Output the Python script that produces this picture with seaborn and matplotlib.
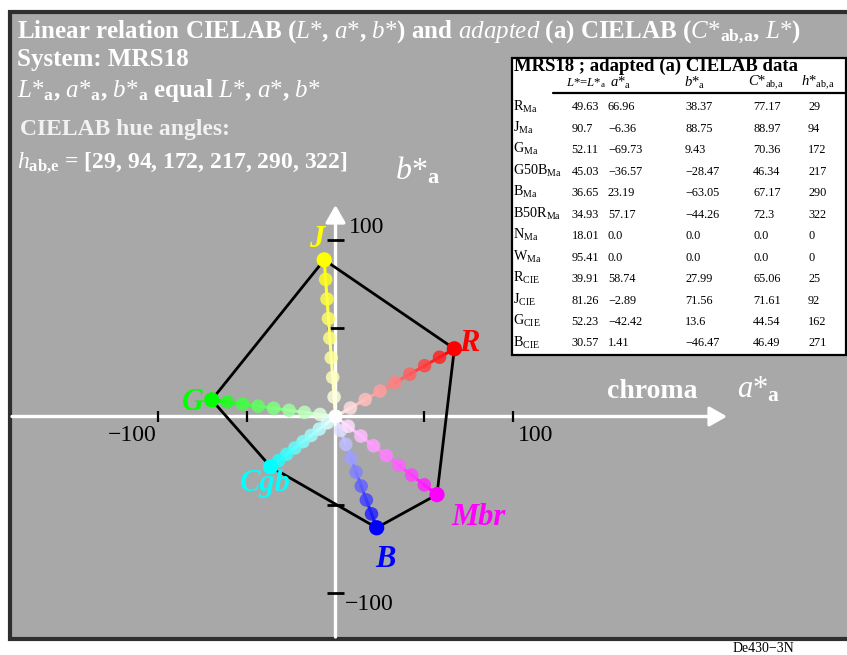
import matplotlib
matplotlib.use("Agg")
import matplotlib.pyplot as plt
import matplotlib.colors as mcolors
from matplotlib.patches import Rectangle
import numpy as np
import pandas as pd
import seaborn as sns

# ---- data -------------------------------------------------------------
hue_names = ["R", "J", "G", "Cgb", "B", "Mbr"]
a_values = [66.96, -6.36, -69.73, -36.57, 23.19, 57.17]
b_values = [38.37, 88.75, 9.43, -28.47, -63.05, -44.26]
hue_colors = ["#ff0000", "#ffff00", "#00ff00", "#00ffff", "#0000ff", "#ff00ff"]
step_fractions = [0.0, 0.125, 0.25, 0.375, 0.5, 0.625, 0.75, 0.875, 1.0]
hue_angles = [29, 94, 172, 217, 290, 322]

axis_ticks = [-100, -50, 50, 100]
labelled_ticks = [-100, 100]

table_names = ["R", "J", "G", "G50B", "B", "B50R", "N", "W", "R", "J", "G", "B"]
table_subs = ["Ma"] * 8 + ["CIE"] * 4
table_L = ["49.63", "90.7", "52.11", "45.03", "36.65", "34.93", "18.01", "95.41",
           "39.91", "81.26", "52.23", "30.57"]
table_a = ["66.96", "\u22126.36", "\u221269.73", "\u221236.57", "23.19", "57.17", "0.0", "0.0",
           "58.74", "\u22122.89", "\u221242.42", "1.41"]
table_b = ["38.37", "88.75", "9.43", "\u221228.47", "\u221263.05", "\u221244.26", "0.0", "0.0",
           "27.99", "71.56", "13.6", "\u221246.47"]
table_C = ["77.17", "88.97", "70.36", "46.34", "67.17", "72.3", "0.0", "0.0",
           "65.06", "71.61", "44.54", "46.49"]
table_h = ["29", "94", "172", "217", "290", "322", "0", "0", "25", "92", "162", "271"]

# ---- style ------------------------------------------------------------
sns.set_theme(style="white")
plt.rcParams["font.family"] = ["Liberation Serif", "DejaVu Serif"]
plt.rcParams["mathtext.fontset"] = "custom"
plt.rcParams["mathtext.rm"] = "Liberation Serif"
plt.rcParams["mathtext.it"] = "Liberation Serif:italic"
plt.rcParams["mathtext.bf"] = "Liberation Serif:bold"

W, H = 847, 655
fig = plt.figure(figsize=(W / 100, H / 100), dpi=100, facecolor="white")

PANEL = "#a8a8a8"
fig.add_artist(Rectangle((10 / W, 1 - 639 / H), (W + 20 - 10) / W, (639 - 11.5) / H,
                         transform=fig.transFigure, facecolor=PANEL,
                         edgecolor="#2e2e2e", lw=3, zorder=-5))


def ftext(px, py, s, **kw):
    """Place text at pixel position (from the top-left corner)."""
    return fig.text(px / W, 1 - py / H, s, **kw)


# ---- diagram axes ------------------------------------------------------
ox, oy = 335.5, 416.5      # origin in pixels
sx, sy = 1.775, 1.765      # pixels per CIELAB unit
ax = fig.add_axes([0, 0, 1, 1])
ax.set_xlim(-ox / sx, (W - ox) / sx)
ax.set_ylim(-(H - oy) / sy, oy / sy)
ax.axis("off")
ax.patch.set_alpha(0)

arrow = dict(arrowstyle="-|>,head_length=0.7,head_width=0.4", color="white",
             lw=2.4, shrinkA=0, shrinkB=0, mutation_scale=15)
ax.annotate("", xy=((727 - ox) / sx, 0), xytext=((12 - ox) / sx, 0),
            arrowprops=arrow, zorder=1)
ax.annotate("", xy=(0, (oy - 205) / sy), xytext=(0, -(637 - oy) / sy),
            arrowprops=arrow, zorder=1)

ax.vlines(axis_ticks, -5.5 / sy, 5.5 / sy, colors="black", lw=1.6, zorder=1.5)
ax.hlines(axis_ticks, -8.5 / sx, 8.5 / sx, colors="black", lw=2.0, zorder=1.5)

tick_kw = dict(fontsize=17, color="black", zorder=5)
for t in labelled_ticks:
    ax.text(t + (-14.5 if t < 0 else 12.5), -10.5, f"{t}".replace("-", "\u2212"),
            ha="center", va="center", **tick_kw)
    ax.text(5.4 if t < 0 else 7.4, t + (-6.5 if t < 0 else 7.0),
            f"{t}".replace("-", "\u2212"), ha="left", va="center", **tick_kw)

# ---- hue polygon ------------------------------------------------------
poly = pd.DataFrame({"a": a_values + a_values[:1], "b": b_values + b_values[:1],
                     "order": range(len(a_values) + 1)})
sns.lineplot(data=poly, x="a", y="b", sort=False, estimator=None,
             color="black", lw=2.0, ax=ax, zorder=2)

# ---- linear spokes from neutral to each hue ---------------------------
def blend(col, t):
    c = np.array(mcolors.to_rgb(col))
    return tuple((1 - t) * np.ones(3) + t * c)


pts, segs = [], []
for name, a, b, col in zip(hue_names, a_values, b_values, hue_colors):
    for k, t in enumerate(step_fractions):
        pts.append({"pid": f"{name}{k}", "a": a * t, "b": b * t,
                    "end": t == step_fractions[-1], "color": blend(col, t)})
        if k > 0:
            t0 = step_fractions[k - 1]
            for tt in (t0, t):
                segs.append({"seg": f"{name}{k}", "a": a * tt, "b": b * tt,
                             "color": blend(col, t)})
pts = pd.DataFrame(pts)
segs = pd.DataFrame(segs)

sns.lineplot(data=segs, x="a", y="b", hue="seg", units="seg", estimator=None,
             sort=False, palette=dict(zip(segs["seg"], segs["color"])),
             legend=False, lw=2.2, ax=ax, zorder=3)
inner = pts[~pts["end"]]
outer = pts[pts["end"]]
sns.scatterplot(data=inner, x="a", y="b", hue="pid",
                palette=dict(zip(inner["pid"], inner["color"])), legend=False,
                s=95, alpha=0.82, linewidth=0, ax=ax, zorder=4)
sns.scatterplot(data=outer, x="a", y="b", hue="pid",
                palette=dict(zip(outer["pid"], outer["color"])), legend=False,
                s=120, linewidth=0, ax=ax, zorder=4)

label_pos = [(75.5, 41.6), (-10.4, 100.5), (-80.3, 8.2), (-39.7, -37.7),
             (28.2, -81.2), (80.5, -57.5)]
for name, (lx, ly), col in zip(hue_names, label_pos, hue_colors):
    ax.text(lx, ly, name, color=col, fontsize=22, fontstyle="italic",
            fontweight="bold", ha="center", va="center", zorder=6)

# ---- axis titles ------------------------------------------------------
ftext(395, 180, r"$b{*}_\mathbf{a}$", fontsize=23, color="white", va="baseline")
ftext(607, 398, "chroma", fontsize=20, fontweight="bold", color="white", va="baseline")
ftext(737, 398, r"$a{*}_\mathbf{a}$", fontsize=22, color="white", va="baseline")

# ---- header text ------------------------------------------------------
hkw = dict(fontsize=18, fontweight="bold", color="white", va="baseline")
ftext(17, 38, r"Linear relation CIELAB ($L{*}$, $a{*}$, $b{*}$) and $adapted$ (a) "
      r"CIELAB ($C{*}_\mathbf{ab,\!a}$, $L{*}$)", **hkw)
ftext(17, 66, "System: MRS18", **hkw)
ftext(17, 97, r"$L{*}_\mathbf{a}$, $a{*}_\mathbf{a}$, $b{*}_\mathbf{a}$ equal "
      r"$L{*}$, $a{*}$, $b{*}$", **hkw)
ftext(20, 135, "CIELAB hue angles:", **{**hkw, "fontsize": 17, "color": "#f2f2f2"})
ftext(17, 168, r"$h_\mathbf{ab,\!e}$ = [" + ", ".join(str(h) for h in hue_angles) + "]",
      **{**hkw, "fontsize": 17})

# ---- data table -------------------------------------------------------
fig.add_artist(Rectangle((511.5 / W, 1 - 355 / H), (845.5 - 511.5) / W, (355 - 57.5) / H,
                         transform=fig.transFigure, facecolor="white",
                         edgecolor="black", lw=1.6, zorder=7))
fig.add_artist(plt.Line2D([553 / W, 846 / W], [1 - 93 / H, 1 - 93 / H],
                          transform=fig.transFigure, color="black", lw=1.6, zorder=8))
ftext(514, 70.5, "MRS18 ; adapted (a) CIELAB data", fontsize=13.5, fontweight="bold",
      color="black", va="baseline", zorder=9)
head_kw = dict(fontsize=10.5, color="black", va="baseline", zorder=9)
col_x = [571.5, 608, 685, 753, 808]
head_x = [566, 610, 684, 748, 801]
headers = [r"$L{*}$=$L{*}_\mathrm{a}$", r"$a{*}_\mathrm{a}$", r"$b{*}_\mathrm{a}$",
           r"$C{*}_\mathrm{ab,\!a}$", r"$h{*}_\mathrm{ab,\!a}$"]
for hx, htxt in zip(head_x, headers):
    ftext(hx, 86.5, htxt, **({**head_kw, "fontsize": 9.2} if hx == head_x[0] else head_kw))

cell_kw = dict(fontsize=8.8, color="black", va="baseline", zorder=9)
for i, (nm, sub) in enumerate(zip(table_names, table_subs)):
    yb = 110.5 + i * 21.45
    ftext(513, yb, nm + r"$_\mathrm{" + sub + "}$", **{**cell_kw, "fontsize": 10.2})
    for cx, val in zip(col_x, (table_L[i], table_a[i], table_b[i], table_C[i], table_h[i])):
        ftext(cx, yb, val, **cell_kw)

ftext(733, 652, "De430\u22123N", fontsize=10, color="black", va="baseline")

fig.savefig("out.png", dpi=100, facecolor="white")
